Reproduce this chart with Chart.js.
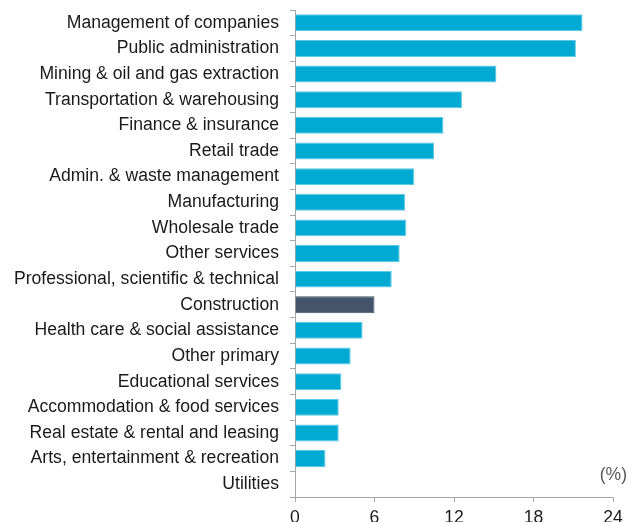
<!DOCTYPE html>
<html>
<head>
<meta charset="utf-8">
<script src="https://cdn.jsdelivr.net/npm/chart.js@4"></script>
<style>
  html, body { margin: 0; padding: 0; background: #fff; }
  #wrap { width: 636px; height: 522px; }
</style>
</head>
<body>
<div id="wrap"><canvas id="chart" width="636" height="522"></canvas></div>
<script>
// industries (top to bottom)
const industries = [
    "Management of companies",
    "Public administration",
    "Mining & oil and gas extraction",
    "Transportation & warehousing",
    "Finance & insurance",
    "Retail trade",
    "Admin. & waste management",
    "Manufacturing",
    "Wholesale trade",
    "Other services",
    "Professional, scientific & technical",
    "Construction",
    "Health care & social assistance",
    "Other primary",
    "Educational services",
    "Accommodation & food services",
    "Real estate & rental and leasing",
    "Arts, entertainment & recreation",
    "Utilities"
];

// share (%)
const shares = [21.7, 21.2, 15.2, 12.6, 11.2, 10.5, 9.0, 8.3, 8.4, 7.9, 7.3, 6.0, 5.1, 4.2, 3.5, 3.3, 3.3, 2.3, 0.05];

const xTicks = [0, 6, 12, 18, 24];
const highlight = "Construction";

const cyan = '#00aad3';
const slate = '#44546a';

Chart.defaults.font.family = '"Liberation Sans", Arial, sans-serif';
Chart.defaults.font.size = 17.6;
Chart.defaults.color = '#1a1a1a';

// "(%)" unit label
const unitLabel = {
    id: 'unitLabel',
    afterDraw(chart) {
        const c = chart.ctx;
        const area = chart.chartArea;
        c.save();
        c.font = '17.6px "Liberation Sans", Arial, sans-serif';
        c.fillStyle = '#595959';
        c.textAlign = 'right';
        c.textBaseline = 'middle';
        c.fillText('(%)', area.right + 14, area.bottom - 22);
        c.restore();
    }
};

const ctx = document.getElementById('chart').getContext('2d');
const chart = new Chart(ctx, {
    type: 'bar',
    data: {
        labels: industries,
        datasets: [{
            data: shares,
            backgroundColor: industries.map(n => n === highlight ? slate : cyan),
            borderColor: industries.map(n => n === highlight ? slate : '#5cc8e6'),
            borderWidth: 1,
            borderSkipped: 'start',
            categoryPercentage: 1,
            barPercentage: 0.66
        }]
    },
    options: {
        indexAxis: 'y',
        responsive: false,
        animation: false,
        layout: { padding: { top: 10, right: 23, left: 0, bottom: 0 } },
        plugins: {
            legend: { display: false },
            tooltip: { enabled: false }
        },
        scales: {
            x: {
                min: 0,
                max: 24,
                afterBuildTicks: axis => { axis.ticks = xTicks.map(v => ({ value: v })); },
                ticks: { padding: 6, color: '#1a1a1a', maxRotation: 0 },
                grid: { drawOnChartArea: false, tickLength: 5, color: '#a6a6a6' },
                border: { color: '#a6a6a6' },
                afterFit: axis => {
                    axis.height = 25;
                    axis.paddingLeft = 0;
                    axis.paddingRight = 0;
                }
            },
            y: {
                ticks: { padding: 11, color: '#1a1a1a', autoSkip: false },
                grid: { drawOnChartArea: false, tickLength: 5, color: '#a6a6a6' },
                border: { color: '#a6a6a6' },
                afterFit: axis => {
                    axis.width = 295;
                    axis.paddingTop = 0;
                    axis.paddingBottom = 0;
                }
            }
        }
    },
    plugins: [unitLabel]
});
</script>
</body>
</html>
